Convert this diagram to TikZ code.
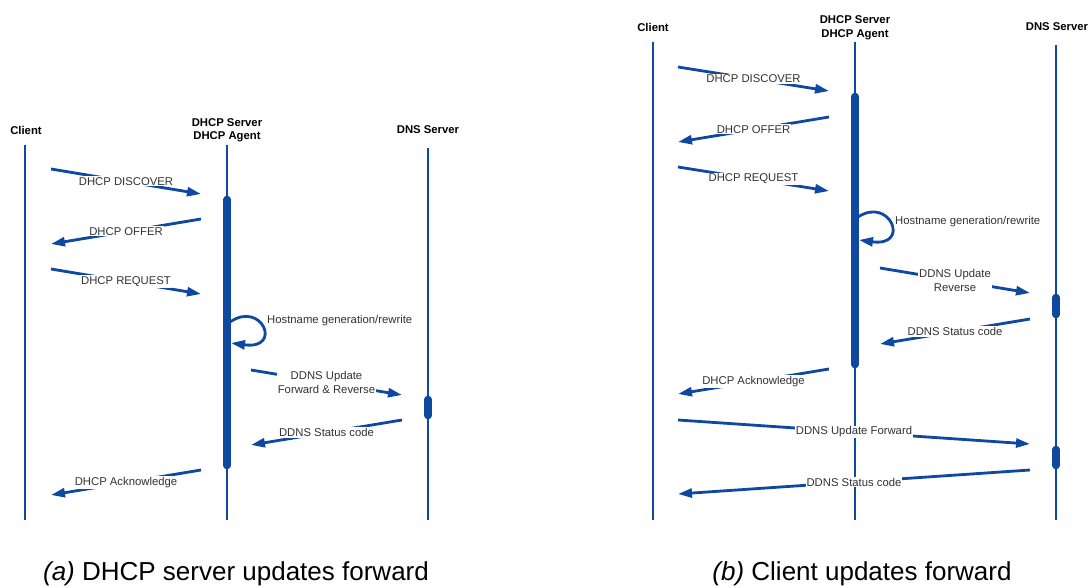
\documentclass[tikz,border=0pt]{standalone}
\usepackage{fontspec}
\setmainfont{Liberation Sans}
\usetikzlibrary{arrows.meta}
\definecolor{lineblue}{RGB}{14,72,160}
\definecolor{textgray}{RGB}{50,50,50}

\begin{document}
\begin{tikzpicture}[x=1pt, y=-1pt,
  life/.style={draw=lineblue, line width=2.8pt},
  actbar/.style={draw=lineblue, line width=7.5pt, line cap=round},
  msg/.style={draw=lineblue, line width=2.8pt, -{Triangle[length=14pt, width=9pt]}},
  lbl/.style={fill=white, inner sep=1pt, text=textgray, align=center, font=\fontsize{11.3}{13.5}\selectfont},
  head/.style={align=center, inner sep=0pt, font=\bfseries\fontsize{11.3}{13.5}\selectfont},
  capt/.style={inner sep=0pt, font=\fontsize{26}{30}\selectfont}
]
  \useasboundingbox (0,0) rectangle (1090,588);

  % (a) DHCP server updates forward
  \node[head] (cliA) at (26,130) {Client};
  \node[head] (srvA) at (227,130.5) {DHCP Server\\DHCP Agent};
  \node[head] (dnsA) at (428,130) {DNS Server};
  \coordinate (cliAtop) at (25,145);   \coordinate (cliAbot) at (25,520);
  \coordinate (srvAtop) at (227,145);  \coordinate (srvAbot) at (227,520);
  \coordinate (dnsAtop) at (428,148);  \coordinate (dnsAbot) at (428,520);
  \draw[life] (cliAtop) -- (cliAbot);
  \draw[life] (srvAtop) -- (srvAbot);
  \draw[life] (dnsAtop) -- (dnsAbot);
  \coordinate (srvAact1) at (227,199.5); \coordinate (srvAact2) at (227,465.5);
  \coordinate (dnsAact1) at (428,399.5); \coordinate (dnsAact2) at (428,415.5);
  \draw[actbar] (srvAact1) -- (srvAact2);
  \draw[actbar] (dnsAact1) -- (dnsAact2);

  \coordinate (a1) at (51,169);  \coordinate (a2) at (201,194);
  \coordinate (a3) at (201,219); \coordinate (a4) at (51,244);
  \coordinate (a5) at (51,269);  \coordinate (a6) at (201,294);
  \coordinate (a7) at (230,322); \coordinate (a8) at (231,343);
  \coordinate (a9) at (251,370); \coordinate (a10) at (402,395);
  \coordinate (a11) at (402,420); \coordinate (a12) at (251,445);
  \coordinate (a13) at (201,470); \coordinate (a14) at (51,495);
  \draw[msg] (a1) -- node[lbl] (discA) {DHCP DISCOVER} (a2);
  \draw[msg] (a3) -- node[lbl] (offA) {DHCP OFFER} (a4);
  \draw[msg] (a5) -- node[lbl] (reqA) {DHCP REQUEST} (a6);
  \draw[msg] (a7) .. controls (262,300) and (283,350) .. (a8);
  \node[lbl, anchor=west] (hostA) at (266,321) {Hostname generation/rewrite};
  \draw[msg] (a9) -- node[lbl] (updA) {DDNS Update\\Forward \& Reverse} (a10);
  \draw[msg] (a11) -- node[lbl] (statA) {DDNS Status code} (a12);
  \draw[msg] (a13) -- node[lbl] (ackA) {DHCP Acknowledge} (a14);

  % (b) Client updates forward
  \node[head] (cliB) at (653,27) {Client};
  \node[head] (srvB) at (855,28) {DHCP Server\\DHCP Agent};
  \node[head] (dnsB) at (1057,27) {DNS Server};
  \coordinate (cliBtop) at (653,42);   \coordinate (cliBbot) at (653,520);
  \coordinate (srvBtop) at (855,42);   \coordinate (srvBbot) at (855,520);
  \coordinate (dnsBtop) at (1056,45);  \coordinate (dnsBbot) at (1056,520);
  \draw[life] (cliBtop) -- (cliBbot);
  \draw[life] (srvBtop) -- (srvBbot);
  \draw[life] (dnsBtop) -- (dnsBbot);
  \coordinate (srvBact1) at (855,96.5);   \coordinate (srvBact2) at (855,364.5);
  \coordinate (dnsBact1) at (1056,297.5); \coordinate (dnsBact2) at (1056,314.5);
  \coordinate (dnsBact3) at (1056,449.5); \coordinate (dnsBact4) at (1056,465.5);
  \draw[actbar] (srvBact1) -- (srvBact2);
  \draw[actbar] (dnsBact1) -- (dnsBact2);
  \draw[actbar] (dnsBact3) -- (dnsBact4);

  \coordinate (b1) at (678,67);   \coordinate (b2) at (829,91);
  \coordinate (b3) at (829,117);  \coordinate (b4) at (678,142);
  \coordinate (b5) at (678,167);  \coordinate (b6) at (829,191);
  \coordinate (b7) at (858,217);  \coordinate (b8) at (859,240);
  \coordinate (b9) at (880,268);  \coordinate (b10) at (1030,293);
  \coordinate (b11) at (1030,319); \coordinate (b12) at (880,344);
  \coordinate (b13) at (829,369); \coordinate (b14) at (678,394);
  \coordinate (b15) at (678,420); \coordinate (b16) at (1030,444);
  \coordinate (b17) at (1030,470); \coordinate (b18) at (678,494);
  \draw[msg] (b1) -- node[lbl] (discB) {DHCP DISCOVER} (b2);
  \draw[msg] (b3) -- node[lbl] (offB) {DHCP OFFER} (b4);
  \draw[msg] (b5) -- node[lbl] (reqB) {DHCP REQUEST} (b6);
  \draw[msg] (b7) .. controls (890,196) and (911,247) .. (b8);
  \node[lbl, anchor=west] (hostB) at (894,222) {Hostname generation/rewrite};
  \draw[msg] (b9) -- node[lbl] (updB) {DDNS Update\\Reverse} (b10);
  \draw[msg] (b11) -- node[lbl] (statB) {DDNS Status code} (b12);
  \draw[msg] (b13) -- node[lbl] (ackB) {DHCP Acknowledge} (b14);
  \draw[msg] (b15) -- node[lbl] (fwdB) {DDNS Update Forward} (b16);
  \draw[msg] (b17) -- node[lbl] (stat2B) {DDNS Status code} (b18);

  % captions
  \node[capt] (captA) at (236,574) {\textit{(a)} DHCP server updates forward};
  \node[capt] (captB) at (862,574) {\textit{(b)} Client updates forward};
\end{tikzpicture}
\end{document}
